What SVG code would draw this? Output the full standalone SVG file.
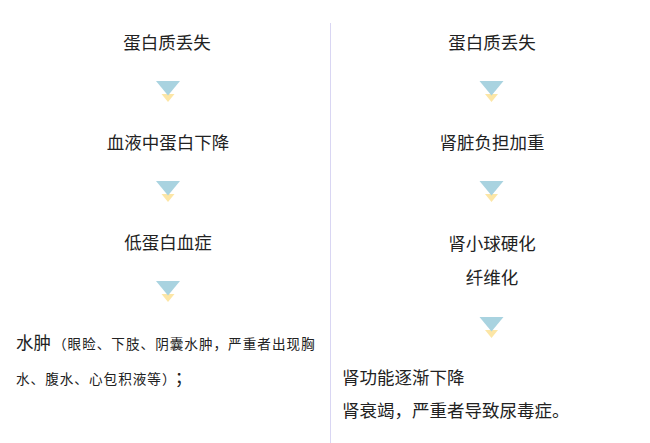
<svg xmlns="http://www.w3.org/2000/svg" width="650" height="443" viewBox="0 0 650 443">
<style>
text{font-family:"Noto Sans CJK SC","Noto Sans",sans-serif;fill:#222;}
.t{font-size:17.5px;text-anchor:middle;}
.l{font-size:17.5px;}
.s{font-size:13.6px;letter-spacing:1px;}
.b{fill:#a9d3e0;}
.y{fill:#fce6a6;}
</style>
<defs>
<g id="arr">
<polygon class="y" points="-6.5,13 6.5,13 0,21"/>
<polygon class="b" points="-12,0 12,0 0,14.5"/>
</g>
</defs>
<rect width="650" height="443" fill="#fff"/>
<line x1="330.5" y1="23" x2="330.5" y2="443" stroke="#d9d6f3" stroke-width="1"/>
<g id="connectors">
<use href="#arr" x="168" y="81"/>
<use href="#arr" x="168" y="181"/>
<use href="#arr" x="168" y="281"/>
<use href="#arr" x="491.5" y="81"/>
<use href="#arr" x="491.5" y="181"/>
<use href="#arr" x="491.5" y="317"/>
</g>
<g id="l1"><text class="t" x="167" y="49">蛋白质丢失</text></g>
<g id="l2"><text class="t" x="168" y="149">血液中蛋白下降</text></g>
<g id="l3"><text class="t" x="168" y="249">低蛋白血症</text></g>
<g id="l4">
<text class="l" x="16" y="349">水肿<tspan class="s" dx="2">（眼睑、下肢、阴囊水肿，严重者出现胸</tspan></text>
<text class="s" x="16" y="384">水、腹水、心包积液等）<tspan class="l" dx="5" style="letter-spacing:0">；</tspan></text>
</g>
<g id="r1"><text class="t" x="492" y="49">蛋白质丢失</text></g>
<g id="r2"><text class="t" x="492" y="149">肾脏负担加重</text></g>
<g id="r3"><text class="t" x="492" y="250">肾小球硬化</text><text class="t" x="492" y="284">纤维化</text></g>
<g id="r4">
<text class="l" x="342" y="384">肾功能逐渐下降</text>
<text class="l" x="342" y="417">肾衰竭，严重者导致尿毒症。</text>
</g>
</svg>
